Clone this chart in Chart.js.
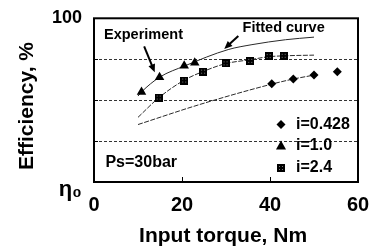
<!DOCTYPE html>
<html>
<head>
<meta charset="utf-8">
<script src="https://cdn.jsdelivr.net/npm/chart.js@4.4.0/dist/chart.umd.min.js"></script>
<style>
  body { margin: 0; background: #fff; }
  #wrap { width: 373px; height: 251px; }
</style>
</head>
<body>
<div id="wrap"><canvas id="effChart" width="373" height="251"></canvas></div>
<script>
// values (x = input torque Nm, y = efficiency on a 0..100 scale, 0 = eta0)
const torqueTri = [10.8, 14.9, 20.5, 22.9];
const effTri = [55.0, 64.0, 71.0, 72.9];
const torqueSq = [14.7, 20.5, 24.8, 29.9, 35.5, 39.7, 43.1];
const effSq = [51.6, 62.0, 67.4, 72.5, 74.0, 76.9, 77.1];
const torqueDia = [40.4, 45.3, 50.0, 55.3];
const effDia = [60.0, 62.9, 65.3, 67.4];

// fitted curves
const fitTriX = [10, 10.8, 14.9, 20.7, 30.5, 35.9, 43.5, 50];
const fitTriY = [52.5, 55, 64, 71, 80.9, 83.9, 86.9, 88.5];
const fitSqX = [10, 14.7, 20.5, 24.8, 29.9, 35.5, 39.6, 43.5, 50];
const fitSqY = [39.5, 51.4, 62.2, 67.5, 72.3, 74.7, 76.5, 77.1, 77.5];
const fitDiaX = [10, 24.1, 40.4, 45.3, 50];
const fitDiaY = [35.1, 47.4, 59.8, 62.9, 65.3];

const seriesLabels = ["i=0.428", "i=1.0", "i=2.4"];
const xTicks = [0, 20, 40, 60];
const yTickLabels = { 100: "100", 0: ["", "η₀"] };

const FONT = "'Liberation Sans', Arial, Helvetica, sans-serif";

const toPts = (xs, ys) => xs.map((x, i) => ({ x, y: ys[i] }));

// square marker, black with faint dots inside
const makeSquare = () => {
    const c = document.createElement("canvas");
    c.width = 8; c.height = 8;
    const g = c.getContext("2d");
    g.fillStyle = "#000";
    g.fillRect(0, 0, 8, 8);
    g.fillStyle = "#777";
    [2, 5].forEach(px => [2, 5].forEach(py => g.fillRect(px, py, 1, 1)));
    return c;
};
const squareStyle = makeSquare();

const drawMarker = (ctx, style, x, y) => {
    ctx.save();
    ctx.fillStyle = "#000";
    if (style === "triangle") {
        ctx.beginPath();
        ctx.moveTo(x, y - 5.5);
        ctx.lineTo(x + 5, y + 3.5);
        ctx.lineTo(x - 5, y + 3.5);
        ctx.closePath();
        ctx.fill();
    } else if (style === "rectRot") {
        ctx.beginPath();
        ctx.moveTo(x, y - 4.5);
        ctx.lineTo(x + 4.5, y);
        ctx.lineTo(x, y + 4.5);
        ctx.lineTo(x - 4.5, y);
        ctx.closePath();
        ctx.fill();
    } else {
        ctx.drawImage(style, x - 4, y - 4);
    }
    ctx.restore();
};

const arrow = (ctx, x1, y1, x2, y2) => {
    const a = Math.atan2(y2 - y1, x2 - x1);
    ctx.save();
    ctx.strokeStyle = "#000";
    ctx.fillStyle = "#000";
    ctx.lineWidth = 2;
    ctx.beginPath();
    ctx.moveTo(x1, y1);
    ctx.lineTo(x2 - 5 * Math.cos(a), y2 - 5 * Math.sin(a));
    ctx.stroke();
    ctx.beginPath();
    ctx.moveTo(x2, y2);
    ctx.lineTo(x2 - 8 * Math.cos(a) + 3.5 * Math.sin(a), y2 - 8 * Math.sin(a) - 3.5 * Math.cos(a));
    ctx.lineTo(x2 - 8 * Math.cos(a) - 3.5 * Math.sin(a), y2 - 8 * Math.sin(a) + 3.5 * Math.cos(a));
    ctx.closePath();
    ctx.fill();
    ctx.restore();
};

// frame, inward ticks, notes and legend
const decorations = {
    id: "decorations",
    beforeDatasetsDraw(chart) {
        const { ctx, chartArea: a, scales: { x, y } } = chart;
        ctx.save();
        ctx.strokeStyle = "#000";
        ctx.lineWidth = 2;
        ctx.strokeRect(a.left, a.top, a.right - a.left, a.bottom - a.top);
        ctx.lineWidth = 1;
        ctx.beginPath();
        [20, 40].forEach(v => {
            const px = Math.round(x.getPixelForValue(v)) + 0.5;
            ctx.moveTo(px, a.bottom);
            ctx.lineTo(px, a.bottom - 5);
        });
        [25, 50, 75].forEach(v => {
            const py = Math.round(y.getPixelForValue(v)) + 0.5;
            ctx.moveTo(a.left, py);
            ctx.lineTo(a.left + 4, py);
        });
        ctx.stroke();
        ctx.restore();
    },
    afterDatasetsDraw(chart) {
        const { ctx, scales: { x, y } } = chart;
        ctx.save();
        ctx.fillStyle = "#000";
        ctx.textBaseline = "middle";
        ctx.font = "bold 14.5px " + FONT;
        ctx.textAlign = "center";
        ctx.fillText("Experiment", x.getPixelForValue(11.25), y.getPixelForValue(89.8));
        ctx.fillText("Fitted curve", x.getPixelForValue(43.1), y.getPixelForValue(93.8));
        arrow(ctx, x.getPixelForValue(11.4), y.getPixelForValue(82.9), x.getPixelForValue(13.8), y.getPixelForValue(67));
        arrow(ctx, x.getPixelForValue(32.8), y.getPixelForValue(89.2), x.getPixelForValue(29.6), y.getPixelForValue(81.3));

        ctx.font = "bold 16px " + FONT;
        ctx.textAlign = "left";
        ctx.fillText("Ps=30bar", x.getPixelForValue(2.6), y.getPixelForValue(12.1));

        // legend
        const order = [2, 0, 1];
        const rowY = [124.5, 146, 168];
        const mx = x.getPixelForValue(42.5);
        order.forEach((dsIdx, i) => {
            const ds = chart.data.datasets[dsIdx];
            drawMarker(ctx, ds.pointStyle, mx, rowY[i]);
            ctx.fillText(ds.label, mx + 15, rowY[i]);
        });
        ctx.restore();
    }
};

const fitLine = (pts, dash) => ({
    data: pts,
    showLine: true,
    borderColor: "#2a2a2a",
    borderWidth: 1,
    borderDash: dash,
    pointRadius: 0,
    tension: 0.4,
    cubicInterpolationMode: "monotone"
});

new Chart(document.getElementById("effChart"), {
    type: "scatter",
    data: {
        datasets: [
            { label: seriesLabels[1], data: toPts(torqueTri, effTri), pointStyle: "triangle", pointRadius: 5.5, backgroundColor: "#000", borderColor: "#000", borderWidth: 0 },
            { label: seriesLabels[2], data: toPts(torqueSq, effSq), pointStyle: squareStyle, pointRadius: 4, backgroundColor: "#000", borderColor: "#000" },
            { label: seriesLabels[0], data: toPts(torqueDia, effDia), pointStyle: "rectRot", pointRadius: 4.5, backgroundColor: "#000", borderColor: "#000", borderWidth: 0 },
            fitLine(toPts(fitTriX, fitTriY), []),
            fitLine(toPts(fitSqX, fitSqY), [5, 1.5]),
            fitLine(toPts(fitDiaX, fitDiaY), [5, 1.5])
        ]
    },
    options: {
        responsive: false,
        animation: false,
        layout: { padding: { top: 15, right: 15, bottom: 0, left: 0 } },
        plugins: { legend: { display: false }, tooltip: { enabled: false } },
        scales: {
            x: {
                type: "linear",
                min: 0,
                max: 60,
                afterFit: s => { s.height = 69; },
                afterBuildTicks: s => { s.ticks = xTicks.map(v => ({ value: v })); },
                ticks: { padding: 3, maxRotation: 0, color: "#000", font: { family: FONT, size: 20, weight: "bold" } },
                grid: { display: false },
                border: { display: false },
                title: { display: true, text: "Input torque, Nm ", color: "#000", font: { family: FONT, size: 21, weight: "bold" }, padding: { top: 0, bottom: 2 } }
            },
            y: {
                min: 0,
                max: 100,
                afterFit: s => { s.width = 94; },
                ticks: {
                    stepSize: 25,
                    padding: 12,
                    color: "#000",
                    callback: v => yTickLabels[v] || "",
                    font: c => ({ family: FONT, size: c.tick && c.tick.value === 0 ? 22 : 18, weight: "bold", lineHeight: 0.7 })
                },
                grid: { drawTicks: false, lineWidth: 1, color: c => (c.tick && c.tick.value > 0 && c.tick.value < 100) ? "#333" : "rgba(0,0,0,0)" },
                border: { display: false, dash: [3, 2] },
                title: { display: true, text: "Efficiency, %  ", color: "#000", font: { family: FONT, size: 21, weight: "bold" }, padding: { top: 15, bottom: 0 } }
            }
        }
    },
    plugins: [decorations]
});
</script>
</body>
</html>
